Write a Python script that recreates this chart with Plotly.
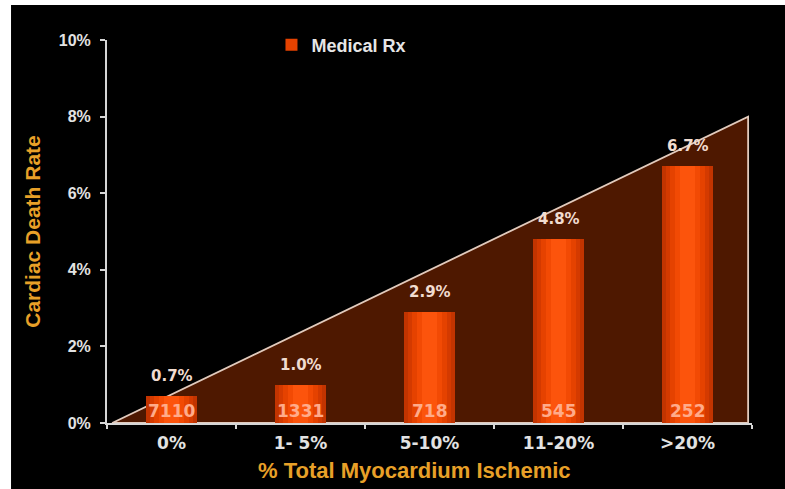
import plotly.graph_objects as go

# Chart data
categories = ["0%", "1- 5%", "5-10%", "11-20%", ">20%"]
death_rate = [0.7, 1.0, 2.9, 4.8, 6.7]          # cardiac death rate, %
patients = [7110, 1331, 718, 545, 252]           # patients per group
value_labels = ["0.7%", "1.0%", "2.9%", "4.8%", "6.7%"]
y_ticks = [0, 2, 4, 6, 8, 10]
y_tick_labels = ["0%", "2%", "4%", "6%", "8%", "10%"]

# Background trend wedge (rising risk)
trend_x = [-0.46, 4.47, 4.47]
trend_y = [0, 8, 0]

x_pos = list(range(len(categories)))

TITLE_FONT = "Arial, 'Liberation Sans', sans-serif"
LABEL_FONT = "Verdana, 'DejaVu Sans', sans-serif"
ORANGE = "#e8a028"
AXIS = "#d6d6d6"

fig = go.Figure()

# bars: nested widths give a soft horizontal gradient from edge to centre
layers = [
    (0.40, "#c23400"),
    (0.34, "#d43a00"),
    (0.27, "#e54200"),
    (0.20, "#f24a04"),
    (0.12, "#fc540c"),
]
for i, (w, c) in enumerate(layers):
    fig.add_trace(go.Bar(
        x=x_pos, y=death_rate, width=[w] * len(x_pos),
        marker=dict(color=c, line=dict(width=0)),
        name="Medical Rx", showlegend=(i == 2),
        hoverinfo="skip",
    ))

annotations = []
for xi, yi, lab, n in zip(x_pos, death_rate, value_labels, patients):
    annotations.append(dict(
        x=xi, y=yi, text=lab, showarrow=False, yanchor="bottom", yshift=9,
        font=dict(family=LABEL_FONT, size=15, color="#f1dcd0", weight="bold"),
    ))
    annotations.append(dict(
        x=xi, y=0, text=str(n), showarrow=False, yanchor="bottom", yshift=0,
        font=dict(family=LABEL_FONT, size=17, color="#ffab8a", weight="bold"),
    ))

annotations.append(dict(
    xref="paper", yref="paper", x=0.4775, y=-0.125, yanchor="middle",
    text="% Total Myocardium Ischemic", showarrow=False,
    font=dict(family=TITLE_FONT, size=22, color=ORANGE, weight="bold"),
))

# wedge outline path in data coordinates, drawn beneath the bars
wedge_path = "M " + " L ".join(f"{x},{y}" for x, y in zip(trend_x, trend_y)) + " Z"

fig.update_layout(
    width=785, height=489,
    margin=dict(l=107, r=33, t=40, b=66),
    paper_bgcolor="black", plot_bgcolor="black",
    barmode="overlay", bargap=0,
    showlegend=True,
    legend=dict(
        x=0.255, y=1.035, xanchor="left", yanchor="top",
        bgcolor="rgba(0,0,0,0)", itemwidth=30,
        font=dict(family=TITLE_FONT, size=18, color="#e6e6e6", weight="bold"),
    ),
    xaxis=dict(
        range=[-0.5, 4.5], tickmode="array", tickvals=x_pos, ticktext=categories,
        ticks="", showgrid=False, zeroline=False,
        showline=True, linecolor=AXIS, linewidth=2,
        minor=dict(ticks="outside", tickmode="linear", tick0=-0.5, dtick=1,
                   ticklen=4, tickwidth=2, tickcolor=AXIS, showgrid=False),
        tickfont=dict(family=LABEL_FONT, size=17, color="#e2e2e2", weight="bold"),
        ticklabelstandoff=4,
    ),
    yaxis=dict(
        range=[0, 10], tickmode="array", tickvals=y_ticks, ticktext=y_tick_labels,
        ticks="outside", ticklen=5, tickwidth=2, tickcolor=AXIS,
        showgrid=False, zeroline=False,
        showline=True, linecolor=AXIS, linewidth=2,
        tickfont=dict(family=TITLE_FONT, size=16, color="#e2e2e2", weight="bold"),
        ticklabelstandoff=6,
        title=dict(text="Cardiac Death Rate", standoff=12,
                   font=dict(family=TITLE_FONT, size=21, color=ORANGE, weight="bold")),
    ),
    annotations=annotations,
    shapes=[
        dict(type="path", xref="x", yref="y", path=wedge_path,
             fillcolor="#4e1800", line=dict(color="#e2cbbd", width=1.8),
             layer="below"),
        # white margin strips along the left and top edges
        dict(type="rect", xref="paper", yref="paper", x0=-0.3, x1=-0.1488,
             y0=-0.4, y1=1.3, fillcolor="white", line=dict(width=0), layer="above"),
        dict(type="rect", xref="paper", yref="paper", x0=-0.3, x1=1.2,
             y0=1.0914, y1=1.3, fillcolor="white", line=dict(width=0), layer="above"),
    ],
)

fig.write_html("out.html")
